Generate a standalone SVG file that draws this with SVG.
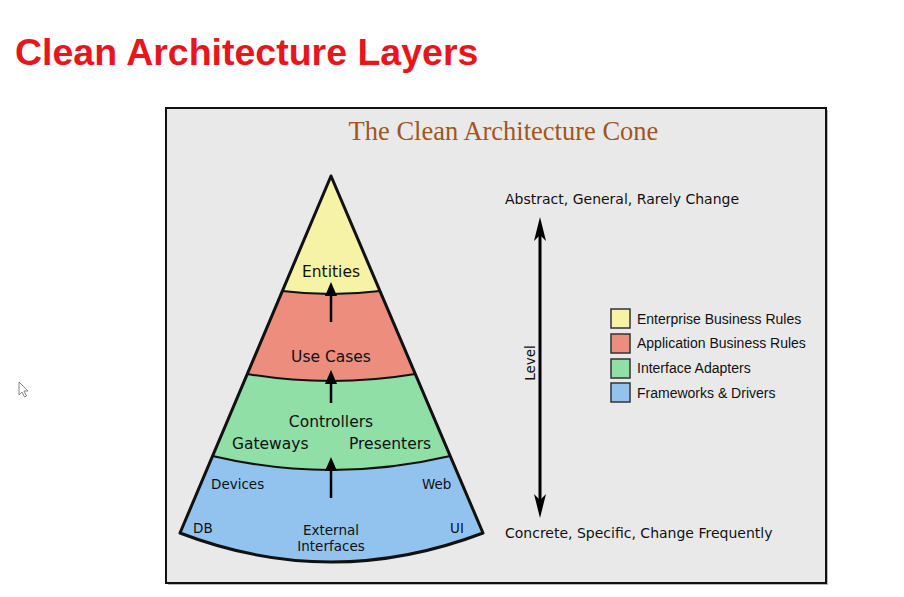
<svg xmlns="http://www.w3.org/2000/svg" width="904" height="597" viewBox="0 0 904 597">
<style>
.lbl{font-family:"DejaVu Sans",Verdana,sans-serif;font-size:15.5px;fill:#111}
.sm{font-family:"DejaVu Sans",Verdana,sans-serif;font-size:13.5px;fill:#111}
.side{font-family:"DejaVu Sans",Verdana,sans-serif;font-size:14px;fill:#111}
.leg{font-family:"Liberation Sans",Arial,sans-serif;font-size:14px;fill:#111}
.band{stroke:none}
.bound{fill:none;stroke:#111;stroke-width:2}
.box{stroke:#333;stroke-width:1.5}
.arr{stroke:#000;stroke-width:2.5;fill:none}
</style>
<defs>
<marker id="ah" viewBox="0 0 14 12" refX="4" refY="6" markerWidth="14" markerHeight="12" markerUnits="userSpaceOnUse" orient="auto-start-reverse">
<path d="M0,0 L14,6 L0,12 Z" fill="#000"/>
</marker>
<marker id="ahL" viewBox="0 0 24 12" refX="8" refY="6" markerWidth="24" markerHeight="12" markerUnits="userSpaceOnUse" orient="auto-start-reverse">
<path d="M0,0 L24,6 L0,12 L6,6 Z" fill="#000"/>
</marker>
</defs>
<rect width="904" height="597" fill="#ffffff"/>
<text x="15" y="65" font-family="Liberation Sans, Arial, sans-serif" font-weight="bold" font-size="37.5" fill="#e8161c">Clean Architecture Layers</text>
<path d="M19,382 L19,395 L22,392 L24.5,397 L26.5,396 L24,391 L28,391 Z" fill="#fff" stroke="#888" stroke-width="1"/>
<g id="frame">
<rect x="168" y="110" width="660" height="475" fill="#b8b8b8"/>
<rect x="166" y="108" width="660" height="475" fill="#e9e9e9" stroke="#111" stroke-width="2"/>
<text x="503.5" y="140" text-anchor="middle" font-family="Liberation Serif, Times New Roman, serif" font-size="26.5" fill="#a0561c">The Clean Architecture Cone</text>
</g>
<g id="entities">
<path class="band" d="M331,176 L282.4,291 Q331,297 380,291 Z" fill="#f6f3a6"/>
<text class="lbl" x="331" y="277" text-anchor="middle">Entities</text>
</g>
<g id="use-cases">
<path class="band" d="M282.4,291 Q331,297 380,291 L415.3,374 Q331,388 247.2,374 Z" fill="#ec8d7e"/>
<text class="lbl" x="331" y="362" text-anchor="middle">Use Cases</text>
</g>
<g id="interface-adapters">
<path class="band" d="M247.2,374 Q331,388 415.3,374 L450.2,456 Q331,484 212.6,456 Z" fill="#8fdfa6"/>
<text class="lbl" x="331" y="427" text-anchor="middle">Controllers</text>
<text class="lbl" x="232" y="449">Gateways</text>
<text class="lbl" x="349" y="449">Presenters</text>
</g>
<g id="frameworks-drivers">
<path class="band" d="M212.6,456 Q331,484 450.2,456 L483,533 Q331,591 180,533 Z" fill="#92c3ee"/>
<text class="sm" x="211" y="489">Devices</text>
<text class="sm" x="422" y="489">Web</text>
<text class="sm" x="193" y="533">DB</text>
<text class="sm" x="450" y="533">UI</text>
<text class="sm" x="331" y="535" text-anchor="middle">External</text>
<text class="sm" x="331" y="551" text-anchor="middle">Interfaces</text>
</g>
<g id="cone-outline">
<path class="bound" d="M282.4,291 Q331,297 380,291"/>
<path class="bound" d="M247.2,374 Q331,388 415.3,374"/>
<path class="bound" d="M212.6,456 Q331,484 450.2,456"/>
<path d="M331,176 L483,533 Q331,591 180,533 Z" fill="none" stroke="#111" stroke-width="3" stroke-linejoin="round"/>
</g>
<g id="connectors">
<line class="arr" x1="331" y1="322" x2="331" y2="292" marker-end="url(#ah)"/>
<line class="arr" x1="331" y1="403" x2="331" y2="380" marker-end="url(#ah)"/>
<line class="arr" x1="331" y1="498" x2="331" y2="467" marker-end="url(#ah)"/>
<line x1="540" y1="233" x2="540" y2="502" stroke="#000" stroke-width="3" marker-start="url(#ahL)" marker-end="url(#ahL)"/>
</g>
<g id="level-labels">
<text class="side" x="505" y="204">Abstract, General, Rarely Change</text>
<text class="side" x="505" y="538">Concrete, Specific, Change Frequently</text>
<text class="sm" x="0" y="0" text-anchor="middle" transform="translate(535,363) rotate(-90)">Level</text>
</g>
<g id="legend">
<rect class="box" x="611" y="309" width="19" height="19" fill="#f6f3a6"/>
<text class="leg" x="637" y="323.5">Enterprise Business Rules</text>
<rect class="box" x="611" y="334" width="19" height="19" fill="#ec8d7e"/>
<text class="leg" x="637" y="348">Application Business Rules</text>
<rect class="box" x="611" y="359" width="19" height="19" fill="#8fdfa6"/>
<text class="leg" x="637" y="373">Interface Adapters</text>
<rect class="box" x="611" y="383" width="19" height="19" fill="#92c3ee"/>
<text class="leg" x="637" y="398">Frameworks &amp; Drivers</text>
</g>
</svg>
